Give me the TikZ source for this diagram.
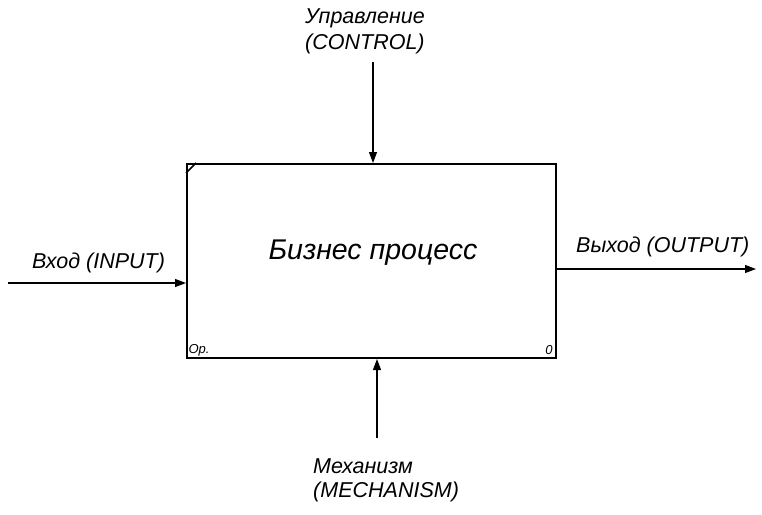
\documentclass[tikz,border=0pt]{standalone}
\usepackage{fontspec}
\setmainfont{Liberation Sans}
\usetikzlibrary{arrows.meta}
\begin{document}
\begin{tikzpicture}[x=1pt,y=-1pt,
  lbl/.style={font=\itshape\fontsize{21.5}{24}\selectfont, inner sep=0pt, anchor=west},
  small/.style={font=\itshape\fontsize{13}{15}\selectfont, inner sep=0pt},
  flow/.style={line width=1.1pt, -{Triangle[length=11pt,width=8pt]}},
  proc/.style={draw, line width=2pt, minimum width=369pt, minimum height=194pt, inner sep=0pt}]
\useasboundingbox (0,0) rectangle (762,514);
\node[proc] (box) at (371.5,261) {};
\node[font=\itshape\fontsize{28.5}{32}\selectfont, inner sep=0pt] (title) at (373,253) {Бизнес процесс};
\draw[line width=1.6pt] ([yshift=-10pt]box.north west) -- ([xshift=10pt]box.north west);
\node[small, anchor=center] (num) at ([xshift=13pt,yshift=9pt]box.south west) {Ор.};
\node[small, anchor=center] (zero) at ([xshift=-8pt,yshift=9pt]box.south east) {0};
% control
\coordinate (cin) at (373,62);
\draw[flow] (cin) -- (cin |- box.north);
\node[lbl] (c1) at (305,18) {Управление};
\node[lbl] (c2) at (305,44) {(CONTROL)};
% input
\coordinate (iin) at (8,283);
\draw[flow] (iin) -- (iin -| box.west);
\node[lbl] (i1) at (32,263) {Вход (INPUT)};
% output
\coordinate (oout) at (756,269);
\draw[flow] (oout -| box.east) -- (oout);
\node[lbl] (o1) at (576,247) {Выход (OUTPUT)};
% mechanism
\coordinate (min) at (377,438);
\draw[flow] (min) -- (min |- box.south);
\node[lbl] (m1) at (313,466) {Механизм};
\node[lbl] (m2) at (313,492) {(MECHANISM)};
\end{tikzpicture}
\end{document}
